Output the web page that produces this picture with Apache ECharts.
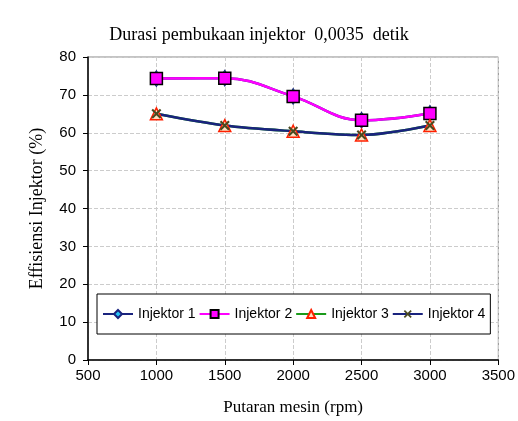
<!DOCTYPE html>
<html>
<head>
<meta charset="utf-8">
<script src="https://cdn.jsdelivr.net/npm/echarts@6/dist/echarts.min.js"></script>
<style>
  html, body { margin: 0; padding: 0; background: #fff; }
  #chart { width: 518px; height: 421px; }
</style>
</head>
<body>
<div id="chart"></div>
<script>
// data
var rpm = [1000, 1500, 2000, 2500, 3000];
var injektor1 = [74.3, 74.4, 69.6, 63.3, 65.1];
var injektor2 = [74.3, 74.4, 69.6, 63.3, 65.1];
var injektor3 = [65.0, 61.9, 60.4, 59.4, 61.9];
var injektor4 = [65.0, 61.9, 60.4, 59.4, 61.9];
var seriesNames = ['Injektor 1', 'Injektor 2', 'Injektor 3', 'Injektor 4'];

function pairs(xs, ys) {
    return xs.map(function (x, i) { return [x, ys[i]]; });
}

// X shaped marker
var crossPath = 'path://M0,1.5 L1.5,0 L5,3.5 L8.5,0 L10,1.5 L6.5,5 L10,8.5 L8.5,10 L5,6.5 L1.5,10 L0,8.5 L3.5,5 Z';

var chart = echarts.init(document.getElementById('chart'));
var option = {
    animation: false,
    title: {
        text: 'Durasi pembukaan injektor  0,0035  detik',
        left: 'center',
        top: 21,
        textStyle: {
            fontFamily: 'Liberation Serif',
            fontWeight: 'normal',
            fontSize: 18,
            color: '#000'
        }
    },
    grid: {
        left: 88,
        right: 19,
        top: 57,
        bottom: 58,
        show: true,
        borderColor: '#888',
        borderWidth: 1
    },
    legend: {
        data: seriesNames,
        left: 97,
        top: 294,
        padding: [13, 5],
        itemGap: 3,
        itemWidth: 30,
        itemHeight: 10,
        backgroundColor: '#fff',
        borderColor: '#000',
        borderWidth: 1,
        borderRadius: 0,
        textStyle: {
            fontFamily: 'Liberation Sans',
            fontSize: 14,
            color: '#000'
        }
    },
    xAxis: {
        type: 'value',
        min: 500,
        max: 3500,
        interval: 500,
        name: 'Putaran mesin (rpm)',
        nameLocation: 'middle',
        nameGap: 39,
        nameTextStyle: {
            fontFamily: 'Liberation Serif',
            fontSize: 17,
            color: '#000'
        },
        axisLine: { lineStyle: { color: '#000', width: 1.5 } },
        axisTick: { show: true, length: 5, lineStyle: { color: '#000' } },
        axisLabel: {
            fontFamily: 'Liberation Sans',
            fontSize: 15,
            color: '#000',
            margin: 8,
            formatter: function (v) { return String(v); }
        },
        splitLine: { show: true, lineStyle: { color: '#ccc', type: 'dashed' } }
    },
    yAxis: {
        type: 'value',
        min: 0,
        max: 80,
        interval: 10,
        name: 'Effisiensi Injektor (%)',
        nameLocation: 'middle',
        nameGap: 42,
        nameTextStyle: {
            fontFamily: 'Liberation Serif',
            fontSize: 18,
            color: '#000'
        },
        axisLine: { show: true, lineStyle: { color: '#000', width: 1.5 } },
        axisTick: { show: true, length: 5, lineStyle: { color: '#000' } },
        axisLabel: {
            fontFamily: 'Liberation Sans',
            fontSize: 15,
            color: '#000',
            margin: 12
        },
        splitLine: { show: true, lineStyle: { color: '#ccc', type: 'dashed' } }
    },
    series: [
        {
            name: seriesNames[0],
            type: 'line',
            data: pairs(rpm, injektor1),
            smooth: 0.4,
            symbol: 'diamond',
            symbolSize: [10, 16],
            lineStyle: { color: '#1a237e', width: 2.5 },
            itemStyle: { color: '#29c5f6', borderColor: '#1a237e', borderWidth: 1 }
        },
        {
            name: seriesNames[1],
            type: 'line',
            data: pairs(rpm, injektor2),
            smooth: 0.4,
            symbol: 'rect',
            symbolSize: 12,
            lineStyle: { color: '#ff00ff', width: 2.5 },
            itemStyle: { color: '#ff00ff', borderColor: '#000', borderWidth: 1.5 }
        },
        {
            name: seriesNames[2],
            type: 'line',
            data: pairs(rpm, injektor3),
            smooth: 0.3,
            symbol: 'triangle',
            symbolSize: 12,
            lineStyle: { color: '#1a9a1a', width: 2.5 },
            itemStyle: { color: '#ffe0c0', borderColor: '#ff2000', borderWidth: 1.5 }
        },
        {
            name: seriesNames[3],
            type: 'line',
            data: pairs(rpm, injektor4),
            smooth: 0.3,
            symbol: crossPath,
            symbolSize: 10,
            lineStyle: { color: '#1a237e', width: 2.5 },
            itemStyle: { color: '#4a4a20' }
        }
    ]
};
chart.setOption(option);
</script>
</body>
</html>
